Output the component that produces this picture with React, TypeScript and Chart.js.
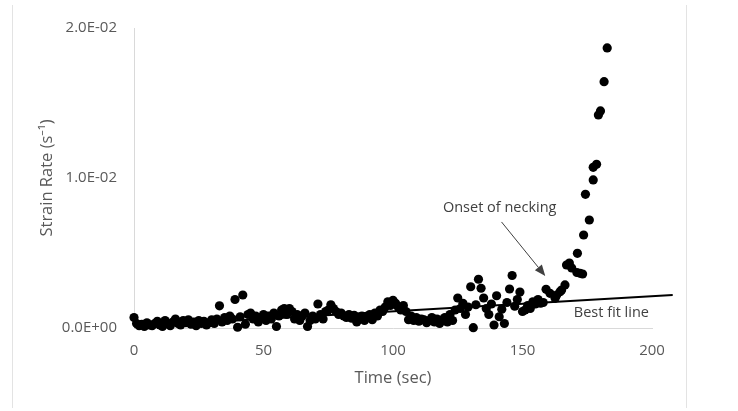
import React, { useEffect, useRef } from 'react';
import { Chart, registerables } from 'chart.js';

Chart.register(...registerables);

// Time (sec) of each measured point
const timeSec = [
  0, 1, 2, 3, 4, 5, 6, 7, 8, 9, 10, 11, 12, 13, 14, 15, 16, 17, 18, 19,
  20, 21, 22, 23, 24, 25, 26, 27, 28, 29, 30, 31, 32, 33, 34, 35, 36, 37, 38, 39,
  40, 41, 42, 43, 44, 45, 46, 47, 48, 49, 50, 51, 52, 53, 54, 55, 56, 57, 58, 59,
  60, 61, 62, 63, 64, 65, 66, 67, 68, 69, 70, 71, 72, 73, 74, 75, 76, 77, 78, 79,
  80, 81, 82, 83, 84, 85, 86, 87, 88, 89, 90, 91, 92, 93, 94, 95, 96, 97, 98, 99,
  100, 101, 102, 103, 104, 105, 106, 107, 108, 109, 110, 111, 112, 113, 114, 115, 116, 117, 118, 119,
  120, 121, 122, 123, 124, 125, 126, 127, 128, 129, 130, 131, 132, 133, 134, 135, 136, 137, 138, 139,
  140, 141, 142, 143, 144, 145, 146, 147, 148, 149, 150, 151, 152, 153, 154, 155, 156, 157, 158,
  159.1, 160.6, 162.6, 163.2, 164.5, 165.1, 166.4, 167, 168.1, 169, 171, 171.2, 172.2, 173.2,
  173.6, 174.3, 175.8, 177.3, 177.3, 178.6, 179.3, 180.1, 181.5, 182.7,
];

// Strain rate (1/s) of each point
const strainRate = [
  0.0007, 0.0003, 0.00015, 0.00025, 0.0001, 0.00035, 0.0002, 0.00015, 0.0003, 0.00045,
  0.0002, 0.0001, 0.0005, 0.0003, 0.00015, 0.0004, 0.0006, 0.0003, 0.0002, 0.0005,
  0.00035, 0.00055, 0.00025, 0.0004, 0.00015, 0.0005, 0.0003, 0.00045, 0.0002, 0.00035,
  0.00055, 0.0003, 0.0006, 0.00148, 0.0004, 0.0007, 0.0005, 0.0008, 0.0006, 0.0019,
  0.00005, 0.00075, 0.0022, 0.00025, 0.0009, 0.001, 0.0006, 0.0008, 0.0004, 0.0007,
  0.0009, 0.0005, 0.0008, 0.0006, 0.001, 0.0001, 0.0008, 0.0012, 0.0013, 0.0009,
  0.0013, 0.0011, 0.0006, 0.0009, 0.0005, 0.0008, 0.001, 0.0001, 0.0005, 0.0008,
  0.0006, 0.0016, 0.0009, 0.0006, 0.0011, 0.0012, 0.00155, 0.0013, 0.0011, 0.0009,
  0.001, 0.0008, 0.0007, 0.0009, 0.00065, 0.00085, 0.0004, 0.0006, 0.0008, 0.0005,
  0.00075, 0.0009, 0.00055, 0.001, 0.0008, 0.0012, 0.0011, 0.0014, 0.00175, 0.0015,
  0.00185, 0.00165, 0.0014, 0.0012, 0.0015, 0.0011, 0.00055, 0.0008, 0.0005, 0.0007,
  0.00045, 0.0006, 0.00055, 0.00035, 0.0005, 0.0007, 0.0004, 0.0006, 0.0003, 0.00055,
  0.0007, 0.0004, 0.0009, 0.0005, 0.0012, 0.002, 0.0013, 0.00165, 0.0009, 0.0014,
  0.00275, 0.00002, 0.00155, 0.00325, 0.00265, 0.002, 0.0013, 0.0009, 0.0016, 0.0002,
  0.00215, 0.00075, 0.00125, 0.0003, 0.0017, 0.0026, 0.0035, 0.00145, 0.0019, 0.0024,
  0.0011, 0.0012, 0.0015, 0.0013, 0.00175, 0.0016, 0.0019, 0.00165, 0.0017,
  0.00258, 0.00231, 0.00198, 0.0022, 0.00242, 0.00253, 0.00287, 0.0042, 0.00433, 0.004,
  0.0037, 0.00498, 0.00365, 0.0036, 0.0062, 0.00891, 0.0072, 0.00987, 0.01071, 0.01091,
  0.0142, 0.01447, 0.01642, 0.01867,
];

// Best fit line end points
const fitTimes = [0, 208];
const fitRates = [0.0001, 0.0022];

const xTicks = [0, 50, 100, 150, 200];
const yTicks = [0, 0.01, 0.02];
const yTickLabels = ['0.0E+00', '1.0E-02', '2.0E-02'];

const FONT = '"Open Sans", "Noto Sans", sans-serif';

const framePlugin = {
  id: 'frame',
  beforeDraw(chart: any) {
    const { ctx, width, height } = chart;
    ctx.save();
    ctx.fillStyle = '#ffffff';
    ctx.fillRect(0, 0, width, height);
    ctx.strokeStyle = '#e3e3e3';
    ctx.lineWidth = 1;
    ctx.beginPath();
    ctx.moveTo(12.5, 5);
    ctx.lineTo(12.5, 408);
    ctx.moveTo(686.5, 5);
    ctx.lineTo(686.5, 408);
    ctx.stroke();
    ctx.restore();
  },
};

const annotationPlugin = {
  id: 'annotations',
  afterDatasetsDraw(chart: any) {
    const { ctx } = chart;
    const x = chart.scales.x;
    const y = chart.scales.y;
    ctx.save();
    ctx.fillStyle = '#404040';
    ctx.font = `14.5px ${FONT}`;
    ctx.textBaseline = 'middle';
    ctx.textAlign = 'center';
    ctx.fillText('Onset of necking', x.getPixelForValue(141.2), y.getPixelForValue(0.008));
    ctx.textAlign = 'left';
    ctx.fillText('Best fit line', x.getPixelForValue(169.8), y.getPixelForValue(0.00102));

    const x1 = x.getPixelForValue(141.9);
    const y1 = y.getPixelForValue(0.00707);
    const x2 = x.getPixelForValue(158.8);
    const y2 = y.getPixelForValue(0.00347);
    const ang = Math.atan2(y2 - y1, x2 - x1);
    const head = 11;
    const half = 4.5;
    const bx = x2 - head * Math.cos(ang);
    const by = y2 - head * Math.sin(ang);
    ctx.strokeStyle = '#404040';
    ctx.lineWidth = 1;
    ctx.beginPath();
    ctx.moveTo(x1, y1);
    ctx.lineTo(bx, by);
    ctx.stroke();
    ctx.beginPath();
    ctx.moveTo(x2, y2);
    ctx.lineTo(bx + half * Math.sin(ang), by - half * Math.cos(ang));
    ctx.lineTo(bx - half * Math.sin(ang), by + half * Math.cos(ang));
    ctx.closePath();
    ctx.fill();
    ctx.restore();
  },
};

export default function App() {
  const canvasRef = useRef<HTMLCanvasElement | null>(null);

  useEffect(() => {
    document.body.style.margin = '0';
    const canvas = canvasRef.current;
    if (!canvas) return;
    const chart = new Chart(canvas, {
      type: 'scatter',
      data: {
        datasets: [
          {
            label: 'Strain rate',
            data: timeSec.map((t, i) => ({ x: t, y: strainRate[i] })),
            backgroundColor: '#000000',
            borderColor: '#000000',
            borderWidth: 0,
            pointRadius: 4.6,
            pointHoverRadius: 4.6,
            clip: false as any,
          } as any,
          {
            label: 'Best fit line',
            data: fitTimes.map((t, i) => ({ x: t, y: fitRates[i] })),
            showLine: true,
            borderColor: '#000000',
            borderWidth: 2,
            pointRadius: 0,
            clip: false as any,
          } as any,
        ],
      },
      options: {
        responsive: false,
        animation: false,
        devicePixelRatio: 1,
        layout: { padding: { top: 28, right: 86, bottom: 0, left: 0 } },
        plugins: {
          legend: { display: false },
          tooltip: { enabled: false },
        },
        scales: {
          x: {
            type: 'linear',
            min: 0,
            max: 200,
            afterBuildTicks: (s: any) => {
              s.ticks = xTicks.map((v) => ({ value: v }));
            },
            afterFit: (s: any) => {
              s.height = 83;
            },
            grid: { display: false, drawTicks: false },
            border: { display: true, color: '#d9d9d9', width: 1 },
            ticks: {
              padding: 14,
              color: '#595959',
              font: { family: FONT, size: 15 },
              maxRotation: 0,
              autoSkip: false,
            },
            title: {
              display: true,
              text: 'Time (sec)',
              color: '#595959',
              font: { family: FONT, size: 16.5 },
              padding: { top: 0, bottom: 23 },
            },
          },
          y: {
            type: 'linear',
            min: 0,
            max: 0.02,
            afterBuildTicks: (s: any) => {
              s.ticks = yTicks.map((v) => ({ value: v }));
            },
            afterFit: (s: any) => {
              s.width = 134;
            },
            grid: { display: false, drawTicks: false },
            border: { display: true, color: '#d9d9d9', width: 1 },
            ticks: {
              padding: 17,
              color: '#595959',
              font: { family: FONT, size: 15 },
              callback: (_v: any, i: number) => yTickLabels[i],
            },
            title: {
              display: true,
              text: 'Strain Rate (s\u207B\u00B9)',
              color: '#595959',
              font: { family: FONT, size: 16.5 },
              padding: { top: 37, bottom: 0 },
            },
          },
        },
      },
      plugins: [framePlugin, annotationPlugin],
    } as any);
    return () => chart.destroy();
  }, []);

  return (
    <div style={{ position: 'absolute', left: 0, top: 0, width: 738, height: 411 }}>
      <canvas ref={canvasRef} width={738} height={411} />
    </div>
  );
}
